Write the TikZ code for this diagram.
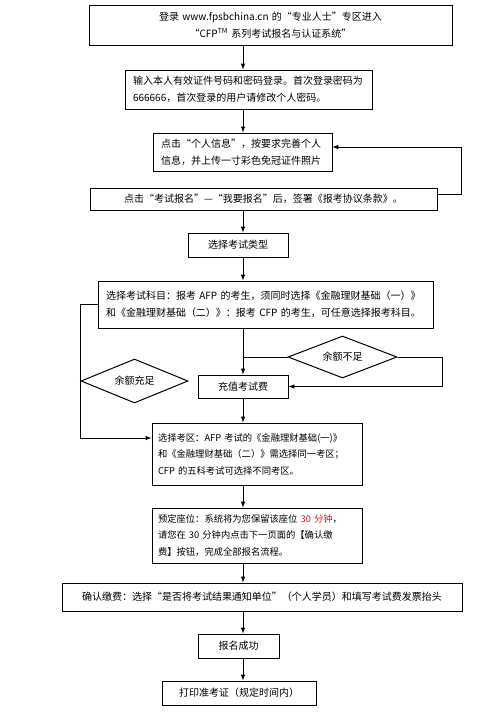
\documentclass[tikz,border=0pt]{standalone}
\usepackage{fontspec}
\setmainfont{Noto Sans CJK SC}
\XeTeXlinebreaklocale "zh"
\usetikzlibrary{arrows,shapes.geometric,positioning,calc}
\definecolor{seatred}{RGB}{200,30,30}

\begin{document}
\begin{tikzpicture}[x=1pt,y=-1pt,->,>=latex,line width=1pt,
  every node/.style={font=\fontsize{10}{17}\selectfont}]
\tikzstyle{stage}=[draw,rectangle,inner xsep=8pt,inner ysep=0pt,align=center]
  \tikzstyle{note}=[stage,align=left]
  \tikzstyle{narrow}=[note,inner xsep=6pt,text width=198pt,font=\fontsize{9.3}{16.5}\selectfont]
  \tikzstyle{choice}=[draw,diamond,aspect=2.5,inner sep=0pt]
\useasboundingbox (0,0) rectangle (478,718);
\coordinate (axis) at (243,0);
%
%
\node[stage,text width=347pt,inner xsep=8pt,minimum height=40pt] (login) at (270.5,25) {登录 www.fpsbchina.cn 的“专业人士”专区进入\hspace*{54pt}\\“CFP\textsuperscript{TM} 系列考试报名与认证系统”\hspace*{54pt}};
  \node[note,text width=231pt,minimum height=39pt] (passwd) at (248.5,89.5) {输入本人有效证件号码和密码登录。首次登录密码为\\666666，首次登录的用户请修改个人密码。};
  \node[note,text width=163pt,minimum height=38pt] (info) at (242.5,152) {点击“个人信息”，按要求完善个人\\信息，并上传一寸彩色免冠证件照片};
  \node[stage,minimum width=347pt,minimum height=22pt] (sign) at (263.5,199) {点击“考试报名”—“我要报名”后，签署《报考协议条款》。};
  \node[stage,minimum width=100pt,minimum height=24pt] (type) at (238,245) {选择考试类型};
  \node[note,text width=319pt,minimum height=47pt] (subject) at (265.5,304.5) {选择考试科目：报考 AFP 的考生，须同时选择《金融理财基础（一）》\\和《金融理财基础（二）》：报考 CFP 的考生，可任意选择报考科目。};
  \node[stage,minimum width=90pt,minimum height=23pt] (pay) at (243,386.5) {充值考试费};
  \node[choice,minimum width=107pt,minimum height=44pt] (enough) at (134.5,381) {余额充足};
  \node[choice,minimum width=109pt,minimum height=42pt] (short) at (342.5,357) {余额不足};
  \node[narrow,minimum height=62pt] (area) at (257,454) {选择考区：AFP 考试的《金融理财基础(一)》\\和《金融理财基础（二）》需选择同一考区；\\CFP 的五科考试可选择不同考区。};
  \node[narrow,minimum height=55pt] (seat) at (257,535.5) {预定座位：系统将为您保留该座位 \textcolor{seatred}{30 分钟}，\\请您在 30 分钟内点击下一页面的【确认缴\\费】按钮，完成全部报名流程。};
  \node[stage,minimum width=400pt,minimum height=28pt] (confirm) at (262,597) {确认缴费：选择“是否将考试结果通知单位”（个人学员）和填写考试费发票抬头};
  \node[stage,minimum width=81pt,minimum height=24pt] (done) at (238.5,646) {报名成功};
  \node[stage,minimum width=154pt,minimum height=24pt] (print) at (239,693) {打印准考证（规定时间内）};

  \path (login.south -| axis) edge (passwd.north -| axis);
  \path (passwd.south -| axis) edge (info.north -| axis);
  \draw ([yshift=5pt]sign.east) -- ++(24,0) |- ([yshift=5pt]info.east);
  \path (sign.south -| axis) edge (type.north -| axis);
  \path (type.south -| axis) edge (subject.north -| axis);
  \path (subject.south -| axis) edge (pay.north);
  \path (short.west -| axis) edge[-] (short.west);
  \draw (short.east) -- ++(45,0) |- (pay.east);
  \draw (subject.west) -- ++(-17,0) |- ([yshift=16pt]area.west);
  \path (pay.south) edge (area.north -| axis);
  \path (area.south -| axis) edge (seat.north -| axis);
  \path (seat.south -| axis) edge (confirm.north -| axis);
  \path (confirm.south -| axis) edge (done.north -| axis);
  \path (done.south -| axis) edge (print.north -| axis);
\end{tikzpicture}
\end{document}
